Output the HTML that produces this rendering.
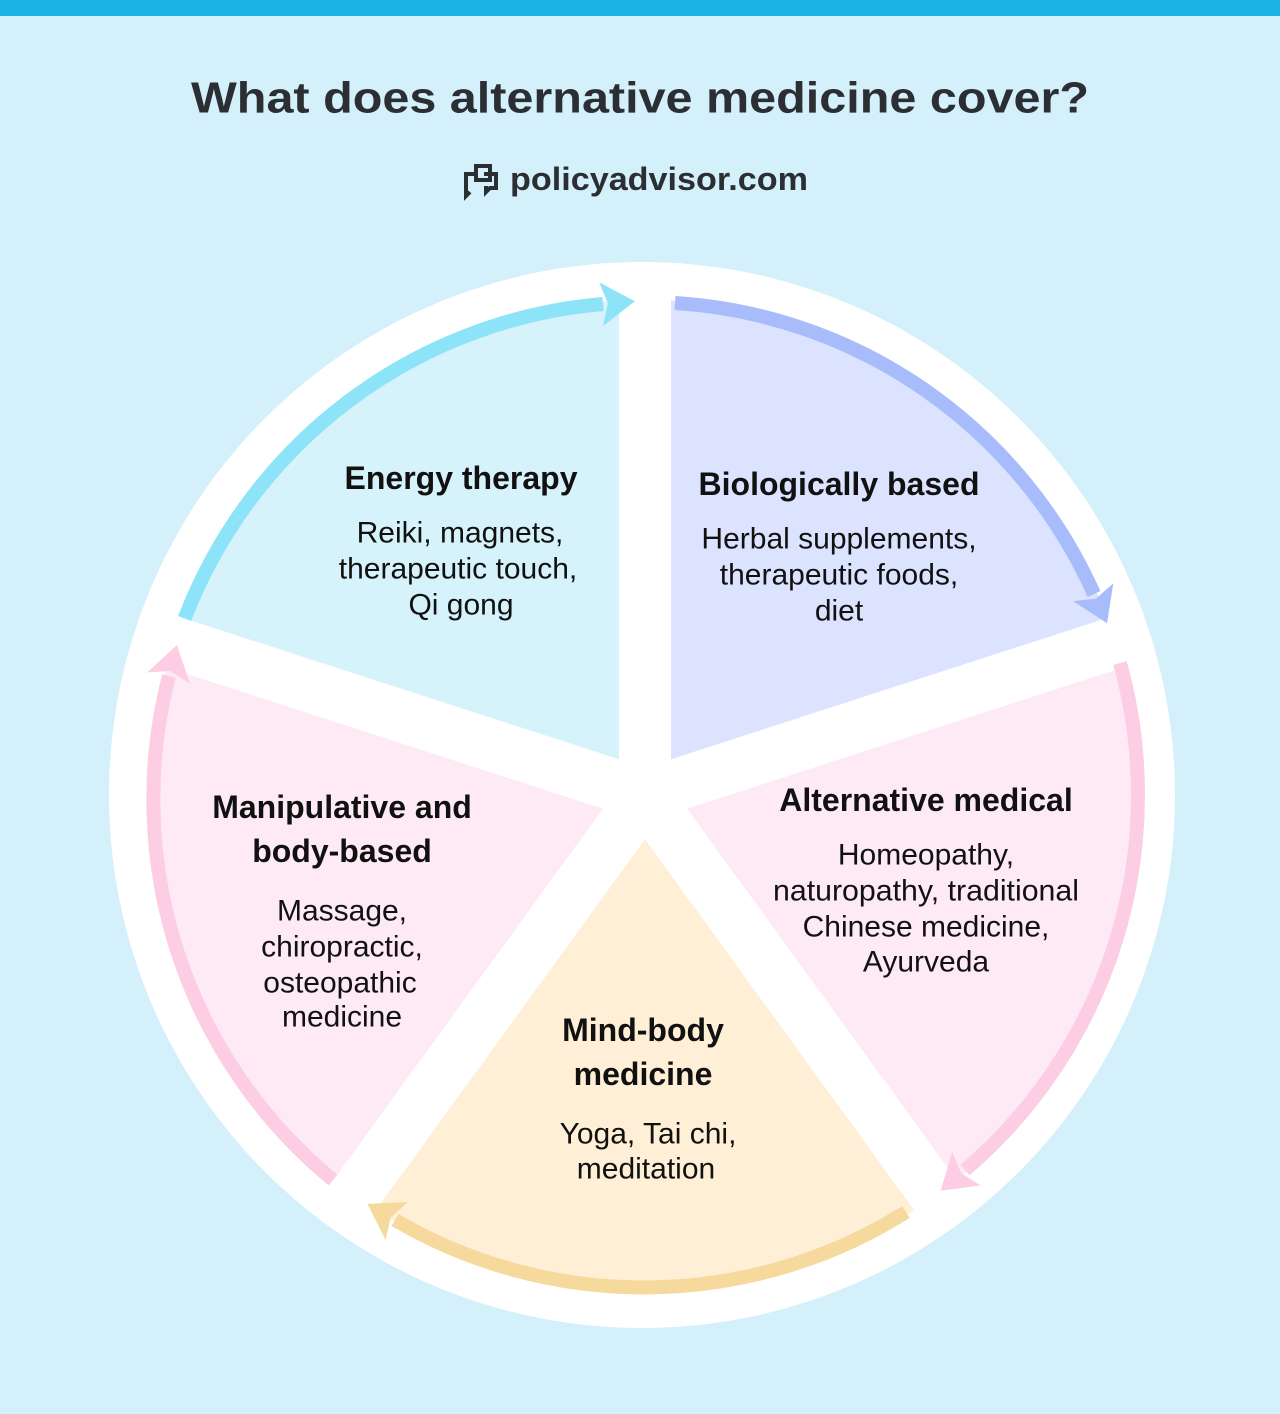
<!DOCTYPE html>
<html><head><meta charset="utf-8"><style>
html,body{margin:0;padding:0;background:#d4f0fa;}
svg{display:block;font-family:"Liberation Sans",sans-serif;}
</style></head><body>
<svg width="1280" height="1414" viewBox="0 0 1280 1414">
<rect x="0" y="0" width="1280" height="1414" fill="#d4f0fa"/>
<rect x="0" y="0" width="1280" height="16" fill="#1ab4e4"/>
<text x="640" y="98" text-anchor="middle" dominant-baseline="central" font-size="44" font-weight="bold" fill="#2b2f33" textLength="898" lengthAdjust="spacingAndGlyphs">What does alternative medicine cover?</text>
<g fill="none" stroke="#2b2f33" stroke-width="4">
<path d="M476 166 h14 v14 h-14 z"/>
<path d="M484 174 h12 v14 h-6 l-4 4 v-4 h-2"/>
<path d="M476 180 v-6 h-10 v22 l4-4"/>
</g>
<text x="510" y="179" dominant-baseline="central" font-size="32" font-weight="bold" fill="#2b2f33" textLength="298" lengthAdjust="spacingAndGlyphs">policyadvisor.com</text>
<defs>
<marker id="mc" markerUnits="userSpaceOnUse" markerWidth="45" markerHeight="60" refX="2" refY="0" viewBox="-5 -30 45 60" orient="auto"><path d="M0,-22 L34,0 L0,22 L7,0 z" fill="#8de3f7"/></marker>
<marker id="mb" markerUnits="userSpaceOnUse" markerWidth="45" markerHeight="60" refX="2" refY="0" viewBox="-5 -30 45 60" orient="auto"><path d="M0,-22 L34,0 L0,22 L7,0 z" fill="#a8bcfb"/></marker>
<marker id="mp" markerUnits="userSpaceOnUse" markerWidth="45" markerHeight="60" refX="2" refY="0" viewBox="-5 -30 45 60" orient="auto"><path d="M0,-22 L34,0 L0,22 L7,0 z" fill="#fdcde4"/></marker>
<marker id="my" markerUnits="userSpaceOnUse" markerWidth="45" markerHeight="60" refX="2" refY="0" viewBox="-5 -30 45 60" orient="auto"><path d="M0,-22 L34,0 L0,22 L7,0 z" fill="#f6d99c"/></marker>
</defs>
<circle cx="642" cy="795" r="533" fill="#ffffff"/>
<path d="M645 795 L174.2 642 A495 495 0 0 1 645 300 Z" fill="#d6f2fb"/>
<path d="M645 795 L645 300 A495 495 0 0 1 1115.8 642 Z" fill="#dce3fe"/>
<path d="M645 795 L1115.8 642 A495 495 0 0 1 936 1195.5 Z" fill="#fdeaf4"/>
<path d="M645 795 L936 1195.5 A495 495 0 0 1 354 1195.5 Z" fill="#feefd6"/>
<path d="M645 795 L354 1195.5 A495 495 0 0 1 174.2 642 Z" fill="#fdeaf4"/>
<g stroke="#ffffff" stroke-width="52" stroke-linecap="butt">
<line x1="645" y1="795" x2="645" y2="272"/>
<line x1="645" y1="795" x2="1142" y2="634"/>
<line x1="645" y1="795" x2="952" y2="1218"/>
<line x1="645" y1="795" x2="338" y2="1218"/>
<line x1="645" y1="795" x2="148" y2="634"/>
</g>
<circle cx="645" cy="795" r="38" fill="#ffffff"/>
<g fill="none" stroke-width="14">
<path d="M184.6 618.5 A493 493 0 0 1 603 304" stroke="#8de3f7" marker-end="url(#mc)"/>
<path d="M675 303 A493 493 0 0 1 1094 594" stroke="#a8bcfb" marker-end="url(#mb)"/>
<path d="M1120 663 A493 493 0 0 1 965 1170" stroke="#fdcde4" marker-end="url(#mp)"/>
<path d="M906 1212 A493 493 0 0 1 395 1220" stroke="#f6d99c" marker-end="url(#my)"/>
<path d="M333 1180 A493 493 0 0 1 169 676" stroke="#fdcde4" marker-end="url(#mp)"/>
</g>
<g text-anchor="middle" dominant-baseline="central" fill="#111">
<g font-size="32" font-weight="bold">
<text x="461" y="478">Energy therapy</text>
<text x="839" y="484">Biologically based</text>
<text x="926" y="800">Alternative medical</text>
<text x="342" y="807">Manipulative and</text>
<text x="342" y="851">body-based</text>
<text x="643" y="1030">Mind-body</text>
<text x="643" y="1074">medicine</text>
</g>
<g font-size="30">
<text x="460" y="533">Reiki, magnets,</text>
<text x="458" y="569">therapeutic touch,</text>
<text x="461" y="605">Qi gong</text>
<text x="839" y="539">Herbal supplements,</text>
<text x="839" y="575">therapeutic foods,</text>
<text x="839" y="611">diet</text>
<text x="926" y="855">Homeopathy,</text>
<text x="926" y="891" textLength="306" lengthAdjust="spacingAndGlyphs">naturopathy, traditional</text>
<text x="926" y="927">Chinese medicine,</text>
<text x="926" y="962">Ayurveda</text>
<text x="342" y="911">Massage,</text>
<text x="342" y="947">chiropractic,</text>
<text x="340" y="983">osteopathic</text>
<text x="342" y="1017">medicine</text>
<text x="648" y="1134">Yoga, Tai chi,</text>
<text x="646" y="1169">meditation</text>
</g>
</g>
</svg>
</body></html>
